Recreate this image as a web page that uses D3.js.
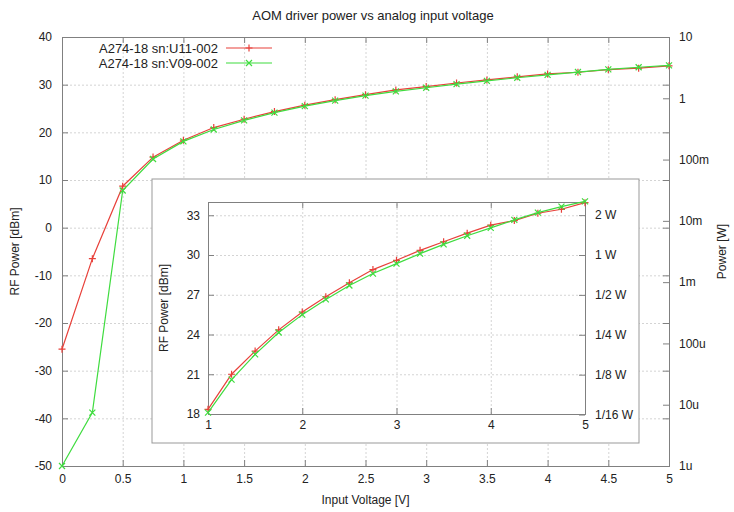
<!DOCTYPE html>
<html>
<head>
<meta charset="utf-8">
<script src="https://cdn.jsdelivr.net/npm/d3@7"></script>
<style>
  body { margin: 0; background: #fff; }
  svg text { font-family: "Liberation Sans Narrow", "Liberation Sans", Arial, sans-serif; fill: #222; }
  .axis path, .axis line { stroke: #808080; }
  .grid line { stroke: #d4d4d4; stroke-dasharray: 2,2; }
  .grid path { display: none; }
</style>
</head>
<body>
<div id="chart"></div>
<script>
// data
const voltage = [0, 0.25, 0.5, 0.75, 1, 1.25, 1.5, 1.75, 2, 2.25, 2.5, 2.75, 3, 3.25, 3.5, 3.75, 4, 4.25, 4.5, 4.75, 5];
const rfU11 = [-25.5, -6.5, 8.7, 14.8, 18.35, 21.0, 22.75, 24.35, 25.7, 26.85, 27.9, 28.9, 29.6, 30.35, 31.0, 31.65, 32.25, 32.6, 33.15, 33.45, 33.95];
const rfV09 = [-50, -38.8, 7.8, 14.4, 18.1, 20.6, 22.5, 24.15, 25.5, 26.65, 27.7, 28.6, 29.35, 30.1, 30.8, 31.45, 32.05, 32.65, 33.2, 33.65, 34.05];
const seriesNames = ["A274-18 sn:U11-002", "A274-18 sn:V09-002"];

const xTicks = [0, 0.5, 1, 1.5, 2, 2.5, 3, 3.5, 4, 4.5, 5];
const yTicks = [-50, -40, -30, -20, -10, 0, 10, 20, 30, 40];
const wattTicks = [1e-6, 1e-5, 1e-4, 1e-3, 1e-2, 1e-1, 1, 10];
const wattLabels = ["1u", "10u", "100u", "1m", "10m", "100m", "1", "10"];

const insetXTicks = [1, 2, 3, 4, 5];
const insetYTicks = [18, 21, 24, 27, 30, 33];
const insetWattTicks = [0.0625, 0.125, 0.25, 0.5, 1, 2];
const insetWattLabels = ["1/16 W", "1/8 W", "1/4 W", "1/2 W", "1 W", "2 W"];

const colors = ["#e8403a", "#3fdc3f"];

// set variables
const W = 734, H = 512;
const margin = {top: 37, right: 65, bottom: 46, left: 62};
const width = W - margin.left - margin.right;
const height = H - margin.top - margin.bottom;
const plain = d => String(d);   // keep ascii hyphen for negatives

const svg = d3.select("#chart").append("svg")
  .attr("width", W).attr("height", H);

const g = svg.append("g")
  .attr("transform", `translate(${margin.left},${margin.top})`);

const x = d3.scaleLinear().domain([0, 5]).range([0, width]);
const y = d3.scaleLinear().domain([-50, 40]).range([height, 0]);
const y2 = d3.scaleLog().domain([1e-6, 10]).range([height, 0]);

const series = [rfU11, rfV09].map((vals, i) => ({
  name: seriesNames[i],
  color: colors[i],
  marker: i === 0 ? "plus" : "cross",
  points: voltage.map((v, j) => ({x: v, y: vals[j]}))
}));

const markerPath = {
  plus: "M-3.5,0H3.5M0,-3.5V3.5",
  cross: "M-3,-3L3,3M-3,3L3,-3"
};

// grid
g.append("g").attr("class", "grid")
  .attr("transform", `translate(0,${height})`)
  .call(d3.axisBottom(x).tickValues(xTicks).tickSize(-height).tickFormat(""));
g.append("g").attr("class", "grid")
  .call(d3.axisLeft(y).tickValues(yTicks).tickSize(-width).tickFormat(""));

function styleAxis(sel) {
  sel.attr("class", "axis");
  sel.selectAll("text").style("font-size", "12px");
}

// axes, ticks point inward
g.append("g").attr("transform", `translate(0,${height})`)
  .call(d3.axisBottom(x).tickValues(xTicks).tickSize(-6).tickPadding(8).tickFormat(plain))
  .call(styleAxis);
g.append("g")
  .call(d3.axisTop(x).tickValues(xTicks).tickSize(-6).tickFormat(""))
  .call(styleAxis);
g.append("g")
  .call(d3.axisLeft(y).tickValues(yTicks).tickSize(-6).tickPadding(10).tickFormat(plain))
  .call(styleAxis);
g.append("g").attr("transform", `translate(${width},0)`)
  .call(d3.axisRight(y).tickValues(yTicks).tickSize(-6).tickFormat(""))
  .call(styleAxis);
g.append("g").attr("transform", `translate(${width},0)`)
  .call(d3.axisRight(y2).tickValues(wattTicks).tickSize(-6).tickPadding(10)
    .tickFormat((d, i) => wattLabels[i]))
  .call(styleAxis);

// lines and markers
function drawSeries(target, xs, ys, data) {
  const line = d3.line().x(d => xs(d.x)).y(d => ys(d.y));
  data.forEach(s => {
    target.append("path")
      .attr("d", line(s.points))
      .attr("fill", "none")
      .attr("stroke", s.color)
      .attr("stroke-width", 1.2);
    target.selectAll(null)
      .data(s.points)
      .enter()
      .append("path")
      .attr("transform", d => `translate(${xs(d.x)},${ys(d.y)})`)
      .attr("d", markerPath[s.marker])
      .attr("stroke", s.color)
      .attr("stroke-width", 1.2);
  });
}
drawSeries(g, x, y, series);

// labels
svg.append("text")
  .attr("x", 373).attr("y", 20)
  .attr("text-anchor", "middle")
  .style("font-size", "13px")
  .text("AOM driver power vs analog input voltage");

svg.append("text")
  .attr("x", margin.left + width / 2).attr("y", H - 8)
  .attr("text-anchor", "middle")
  .style("font-size", "12px")
  .text("Input Voltage [V]");

svg.append("text")
  .attr("transform", `translate(19,${margin.top + height / 2}) rotate(-90)`)
  .attr("text-anchor", "middle")
  .style("font-size", "12px")
  .text("RF Power [dBm]");

svg.append("text")
  .attr("transform", `translate(726,${margin.top + height / 2}) rotate(-90)`)
  .attr("text-anchor", "middle")
  .style("font-size", "12px")
  .text("Power [W]");

// legend
const legend = svg.append("g").attr("transform", "translate(218,48)");
series.forEach((s, i) => {
  const row = legend.append("g").attr("transform", `translate(0,${i * 15})`);
  row.append("text")
    .attr("x", 0).attr("dy", "0.35em")
    .attr("text-anchor", "end")
    .style("font-size", "13px")
    .text(s.name);
  row.append("line")
    .attr("x1", 8).attr("x2", 54)
    .attr("stroke", s.color).attr("stroke-width", 1.2);
  row.append("path")
    .attr("transform", "translate(31,0)")
    .attr("d", markerPath[s.marker])
    .attr("stroke", s.color).attr("stroke-width", 1.2);
});

// inset
const inset = {x: 208, y: 202, w: 377, h: 212};
svg.append("rect")
  .attr("x", 152).attr("y", 179)
  .attr("width", 487).attr("height", 264)
  .attr("fill", "#fff")
  .attr("stroke", "#999");

const ig = svg.append("g").attr("transform", `translate(${inset.x},${inset.y})`);
const ix = d3.scaleLinear().domain([1, 5]).range([0, inset.w]);
const iy = d3.scaleLinear().domain([18, 34]).range([inset.h, 0]);
const iy2 = d3.scaleLog()
  .domain([Math.pow(10, (18 - 30) / 10), Math.pow(10, (34 - 30) / 10)])
  .range([inset.h, 0]);

ig.append("g").attr("class", "grid")
  .attr("transform", `translate(0,${inset.h})`)
  .call(d3.axisBottom(ix).tickValues(insetXTicks).tickSize(-inset.h).tickFormat(""));
ig.append("g").attr("class", "grid")
  .call(d3.axisLeft(iy).tickValues(insetYTicks).tickSize(-inset.w).tickFormat(""));

ig.append("g").attr("transform", `translate(0,${inset.h})`)
  .call(d3.axisBottom(ix).tickValues(insetXTicks).tickSize(-6).tickPadding(6).tickFormat(plain))
  .call(styleAxis);
ig.append("g")
  .call(d3.axisTop(ix).tickValues(insetXTicks).tickSize(-6).tickFormat(""))
  .call(styleAxis);
ig.append("g")
  .call(d3.axisLeft(iy).tickValues(insetYTicks).tickSize(-6).tickPadding(8).tickFormat(plain))
  .call(styleAxis);
ig.append("g").attr("transform", `translate(${inset.w},0)`)
  .call(d3.axisRight(iy2).tickValues(insetWattTicks).tickSize(-6).tickPadding(10)
    .tickFormat((d, i) => insetWattLabels[i]))
  .call(styleAxis);

const insetSeries = series.map(s => ({...s, points: s.points.filter(p => p.x >= 1)}));
drawSeries(ig, ix, iy, insetSeries);

svg.append("text")
  .attr("transform", `translate(168,${inset.y + inset.h / 2}) rotate(-90)`)
  .attr("text-anchor", "middle")
  .style("font-size", "12px")
  .text("RF Power [dBm]");
</script>
</body>
</html>
